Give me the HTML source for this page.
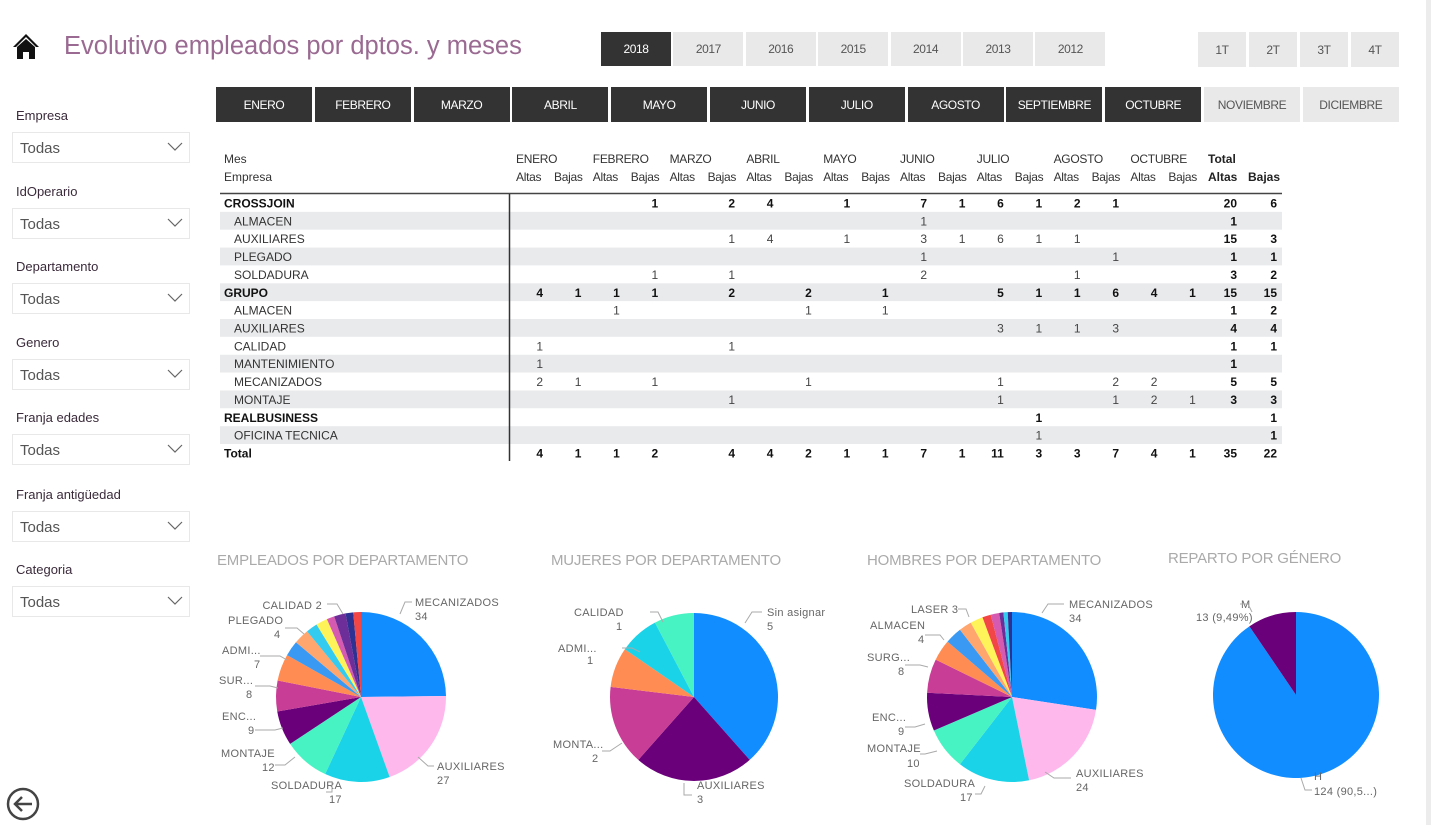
<!DOCTYPE html>
<html><head><meta charset="utf-8"><style>
*{box-sizing:border-box;margin:0;padding:0}
body{width:1431px;height:825px;background:#fff;position:relative;overflow:hidden;font-family:"Liberation Sans",sans-serif}
.abs{position:absolute}
.btn{position:absolute;display:flex;align-items:center;justify-content:center;font-size:12px;letter-spacing:-0.4px}
.dk{background:#333;color:#fff}
.lt{background:#e9e9e9;color:#555}
.lbl{position:absolute;left:16px;font-size:13px;color:#3a2a3a}
.dd{position:absolute;left:12px;width:178px;height:31px;border:1px solid #e8e8e8;font-size:15px;color:#555;padding:7px 0 0 7px}
.dd svg{position:absolute;right:6px;top:9px}
.pt{position:absolute;font-size:15px;color:#aaa;letter-spacing:-0.2px}
</style></head><body>
<div class="abs" style="left:1426px;top:0;width:5px;height:825px;background:#ececec"></div>
<svg class="abs" style="left:12px;top:32px" width="28" height="28" viewBox="0 0 28 28"><path d="M14 2 L1 15 L4 15 L14 5 L24 15 L27 15 Z" fill="#111"/><path d="M5 15 L14 7 L23 15 L23 27 L17 27 L17 20 L11 20 L11 27 L5 27 Z" fill="#111"/></svg>
<div class="abs" style="left:64px;top:32px;font-size:25.5px;color:#9a6a92;letter-spacing:0px">Evolutivo empleados por dptos. y meses</div>
<div id="years"></div><div id="qs"></div><div id="months"></div>
<div id="slicers"></div>
<svg class="abs" style="left:6px;top:786px" width="36" height="36" viewBox="0 0 36 36"><circle cx="17" cy="18" r="15" fill="none" stroke="#444" stroke-width="2.5"/><path d="M26 18 H10 M16 11 L9 18 L16 25" fill="none" stroke="#444" stroke-width="2.5"/></svg>
<div class="pt" style="left:217px;top:552px">EMPLEADOS POR DEPARTAMENTO</div>
<div class="pt" style="left:551px;top:552px">MUJERES POR DEPARTAMENTO</div>
<div class="pt" style="left:867px;top:552px">HOMBRES POR DEPARTAMENTO</div>
<div class="pt" style="left:1168px;top:550px">REPARTO POR GÉNERO</div>
<svg id="main" class="abs" style="left:0;top:0" width="1431" height="825"></svg>
<script>
const years=['2018','2017','2016','2015','2014','2013','2012'];
const quarters=['1T','2T','3T','4T'];
const monthsBtn=['ENERO','FEBRERO','MARZO','ABRIL','MAYO','JUNIO','JULIO','AGOSTO','SEPTIEMBRE','OCTUBRE','NOVIEMBRE','DICIEMBRE'];
const slicerLabels=['Empresa','IdOperario','Departamento','Genero','Franja edades','Franja antigüedad','Categoria'];
const slicerTops=[108,184,259,335,410,487,562];
function mk(parent,cls,txt,l,t,w,h){const d=document.createElement('div');d.className=cls;d.textContent=txt;d.style.left=l+'px';d.style.top=t+'px';if(w)d.style.width=w+'px';if(h)d.style.height=h+'px';parent.appendChild(d);return d;}
years.forEach((y,i)=>{const d=mk(document.body,'btn '+(i==0?'dk':'lt'),y,601+i*72.4,32,70,34);

});
quarters.forEach((q,i)=>{const d=mk(document.body,'btn lt',q,1198+i*51,32,48,35);

});
monthsBtn.forEach((m,i)=>{const d=mk(document.body,'btn '+(i<10?'dk':'lt'),m,216+i*98.8,87,96,35);

});
slicerLabels.forEach((s,i)=>{const t=slicerTops[i];
const l=mk(document.body,'lbl',s,16,t,0,0);l.style.width='auto';


const d=mk(document.body,'dd','Todas',12,t+24,178,31);


d.insertAdjacentHTML('beforeend','<svg width="16" height="10"><path d="M1 1 L8 8 L15 1" fill="none" stroke="#666" stroke-width="1.2"/></svg>');});

// ---- matrix data ----
const tableMonths=['ENERO','FEBRERO','MARZO','ABRIL','MAYO','JUNIO','JULIO','AGOSTO','OCTUBRE'];
const rowNames=['CROSSJOIN','ALMACEN','AUXILIARES','PLEGADO','SOLDADURA','GRUPO','ALMACEN','AUXILIARES','CALIDAD','MANTENIMIENTO','MECANIZADOS','MONTAJE','REALBUSINESS','OFICINA TECNICA','Total'];
const rowBold=[1,0,0,0,0,1,0,0,0,0,0,0,1,0,1];
const rowValues=[
['','','',1,'',2,4,'',1,'',7,1,6,1,2,1,'','',20,6],
['','','','','','','','','','',1,'','','','','','','',1,''],
['','','','','',1,4,'',1,'',3,1,6,1,1,'','','',15,3],
['','','','','','','','','','',1,'','','','',1,'','',1,1],
['','','',1,'',1,'','','','',2,'','','',1,'','','',3,2],
[4,1,1,1,'',2,'',2,'',1,'','',5,1,1,6,4,1,15,15],
['','',1,'','','','',1,'',1,'','','','','','','','',1,2],
['','','','','','','','','','','','',3,1,1,3,'','',4,4],
[1,'','','','',1,'','','','','','','','','','','','',1,1],
[1,'','','','','','','','','','','','','','','','','',1,''],
[2,1,'',1,'','','',1,'','','','',1,'','',2,2,'',5,5],
['','','','','',1,'','','','','','',1,'','',1,2,1,3,3],
['','','','','','','','','','','','','',1,'','','','','',1],
['','','','','','','','','','','','','',1,'','','','','',1],
[4,1,1,2,'',4,4,2,1,1,7,1,11,3,3,7,4,1,35,22]
];
// ---- pie data ----
const pie1Labels=['MECANIZADOS','AUXILIARES','SOLDADURA','MONTAJE','ENC...','SUR...','ADMI...','OTROS1','PLEGADO','OTROS2','OTROS3','CALIDAD','OTROS4','OTROS5','OTROS6'];
const pie1Values=[34,27,17,12,9,8,7,4,4,3,3,2,3,2,2];
const pie2Labels=['Sin asignar','AUXILIARES','MONTA...','ADMI...','CALIDAD','OTROS'];
const pie2Values=[5,3,2,1,1,1];
const pie3Labels=['MECANIZADOS','AUXILIARES','SOLDADURA','MONTAJE','ENC...','SURG...','OTROS1','ALMACEN','OTROS2','LASER','OTROS3','OTROS4','OTROS5','OTROS6','OTROS7'];
const pie3Values=[34,24,17,10,9,8,5,4,3,3,2,2,1,1,1];
const pie4Labels=['H','M'];
const pie4Values=[124,13];

const NS='http://www.w3.org/2000/svg';
const svg=document.getElementById('main');
function el(tag,attrs,txt){const e=document.createElementNS(NS,tag);for(const k in attrs)e.setAttribute(k,attrs[k]);if(txt!==undefined)e.textContent=txt;svg.appendChild(e);return e;}
const colX=i=>i<18?543+38.4*i:(i==18?1237:1277);
const rowY=i=>203+17.86*i;
let t=el('text',{x:224,y:163,'font-size':12,fill:'#333'},'Mes');


t=el('text',{x:224,y:181,'font-size':12,fill:'#333'},'Empresa');


tableMonths.forEach((m,k)=>{
 t=el('text',{x:516+76.8*k,y:163,'font-size':12,fill:'#333','letter-spacing':-0.3},m);
 
 
 t=el('text',{x:516+76.8*k,y:181,'font-size':12,fill:'#333','letter-spacing':-0.3},'Altas');
 
 
 t=el('text',{x:554+76.8*k,y:181,'font-size':12,fill:'#333','letter-spacing':-0.3},'Bajas');
 
 
});
t=el('text',{x:1208,y:163,'font-size':12,'font-weight':'bold',fill:'#222'},'Total');


t=el('text',{x:1208,y:181,'font-size':12,'font-weight':'bold',fill:'#222'},'Altas');


t=el('text',{x:1248,y:181,'font-size':12,'font-weight':'bold',fill:'#222'},'Bajas');


rowNames.forEach((n,i)=>{
 const y=rowY(i);
 if(i%2==1){const r=el('rect',{x:220,y:y-9,width:1062,height:17.8,fill:'#e9eaec'});
  
  }
});
el('line',{x1:220,y1:193.5,x2:1282,y2:193.5,stroke:'#444','stroke-width':1.5});
el('line',{x1:509.5,y1:194,x2:509.5,y2:461,stroke:'#333','stroke-width':1.5});
rowNames.forEach((n,i)=>{
 const y=rowY(i)+4.5;const b=rowBold[i];
 const tx=el('text',{x:b?224:234,y:y,'font-size':12,'font-weight':b?'bold':'normal',fill:b?'#111':'#333'},n);
 
 
 rowValues[i].forEach((v,j)=>{if(v==='')return;
  const bb=b||j>=18;
  const c=el('text',{x:colX(j),y:y,'font-size':12,'text-anchor':'end','font-weight':bb?'bold':'normal',fill:bb?'#111':'#444'},v);
  
  
 });
});
const COLORS=['#118DFF','#FFB8EC','#1BD3E8','#47F2C3','#6B007B','#C83D95','#FF8C52','#3A99F3','#FFA56E','#33CBEF','#FFF35A','#D65AAF','#6E2E99','#2E3192','#F24545'];
const pie2Colors=['#118DFF','#6B007B','#C83D95','#FF8C52','#1BD3E8','#47F2C3'];
const pie3Colors=['#118DFF','#FFB8EC','#1BD3E8','#47F2C3','#6B007B','#C83D95','#FF8C52','#3A99F3','#FFA56E','#FFF35A','#F24545','#D65AAF','#6E2E99','#33CBEF','#2E3192'];
const pie4Colors=['#118DFF','#6B007B'];
function pie(name,cx,cy,r,vals,labels,cols){
 const tot=vals.reduce((a,b)=>a+b,0);let a0=0;
 vals.forEach((v,i)=>{const a1=a0+v/tot*2*Math.PI;
  const x0=cx+r*Math.sin(a0),y0=cy-r*Math.cos(a0),x1=cx+r*Math.sin(a1),y1=cy-r*Math.cos(a1);
  const large=(a1-a0)>Math.PI?1:0;
  const p=el('path',{d:`M${cx},${cy} L${x0},${y0} A${r},${r} 0 ${large} 1 ${x1},${y1} Z`,fill:cols[i%cols.length]});
  
  
  a0=a1;});
}
pie('pie1',361,697,85,pie1Values,pie1Labels,COLORS);
pie('pie2',694,697,84,pie2Values,pie2Labels,pie2Colors);
pie('pie3',1012,697,85,pie3Values,pie3Labels,pie3Colors);
pie('pie4',1296,695,83,pie4Values,pie4Labels,pie4Colors);
const L=[
 [415,606,'MECANIZADOS','start'],[415,620,'34','start'],[322,609,'CALIDAD 2','end'],[228,624,'PLEGADO','start'],[274,638,'4','start'],
 [222,654,'ADMI...','start'],[254,668,'7','start'],[219,684,'SUR...','start'],[246,698,'8','start'],[222,720,'ENC...','start'],[248,734,'9','start'],
 [221,757,'MONTAJE','start'],[262,771,'12','start'],[271,789,'SOLDADURA','start'],[329,803,'17','start'],[437,770,'AUXILIARES','start'],[437,784,'27','start'],
 [767,616,'Sin asignar','start'],[767,630,'5','start'],[574,616,'CALIDAD','start'],[616,630,'1','start'],[558,652,'ADMI...','start'],[587,664,'1','start'],
 [553,748,'MONTA...','start'],[592,762,'2','start'],[697,789,'AUXILIARES','start'],[697,803,'3','start'],
 [1069,608,'MECANIZADOS','start'],[1069,622,'34','start'],[911,613,'LASER 3','start'],[870,629,'ALMACEN','start'],[918,643,'4','start'],
 [867,661,'SURG...','start'],[898,675,'8','start'],[872,721,'ENC...','start'],[898,735,'9','start'],[867,752,'MONTAJE','start'],[907,767,'10','start'],
 [904,787,'SOLDADURA','start'],[960,801,'17','start'],[1076,777,'AUXILIARES','start'],[1076,791,'24','start'],
 [1241,608,'M','start'],[1196,621,'13 (9,49%)','start'],[1314,780,'H','start'],[1314,795,'124 (90,5...)','start']
];
L.forEach(d=>{const tx=el('text',{x:d[0],y:d[1],'font-size':11,fill:'#666','letter-spacing':0.3,'text-anchor':d[3]},d[2]);
 
 });
const lines=[[400,614,405,602,412,602],[343,614,337,604,327,604],[304,634,297,628,285,628],[287,660,280,656,260,656],[278,688,270,686,255,686],[283,728,275,730,255,730],[295,757,285,765,275,765],[332,781,332,792,326,792],[418,757,428,766,434,766],
 [745,623,752,612,762,612],[663,622,658,612,650,612],[640,652,632,648,622,648],[622,743,610,751,602,751],[684,783,684,795,692,795],
 [1042,613,1048,604,1064,604],[969,617,966,609,958,609],[944,640,940,635,925,635],[928,667,920,665,905,665],[925,724,915,727,905,727],[937,751,925,754,920,754],[985,786,981,794,975,794],[1045,772,1054,778,1071,778],
 [1252,612,1248,604,1240,604],[1301,778,1305,790,1312,790]];
lines.forEach(p=>{const pl=el('polyline',{points:`${p[0]},${p[1]} ${p[2]},${p[3]} ${p[4]},${p[5]}`,fill:'none',stroke:'#aaa','stroke-width':1});
 
 });
</script>
</body></html>
